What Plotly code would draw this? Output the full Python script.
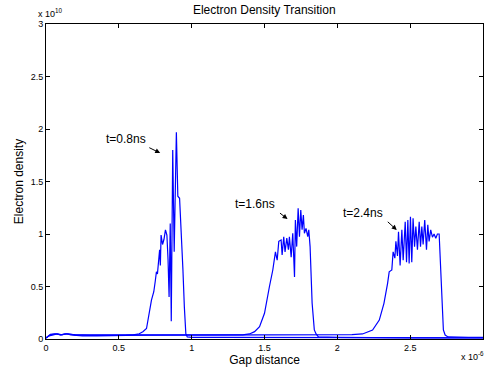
import plotly.graph_objects as go

# x in units of 1e-6 (Gap distance), y in units of 1e10 (Electron density)
x_08 = [0, 0.02, 0.05, 0.08, 0.11, 0.14, 0.17, 0.2, 0.25, 0.35, 0.45, 0.55, 0.6, 0.64, 0.665, 0.69,
        0.724, 0.74, 0.75, 0.758, 0.765, 0.772, 0.78, 0.785, 0.79, 0.80, 0.81, 0.82, 0.83, 0.838,
        0.845, 0.853, 0.86, 0.87, 0.88, 0.895, 0.905, 0.917, 0.93, 0.94, 0.95, 0.96, 0.97, 1.0,
        1.2, 1.5, 2.0, 2.5, 3.0]
y_08 = [0.01, 0.03, 0.04, 0.05, 0.04, 0.05, 0.04, 0.035, 0.03, 0.03, 0.03, 0.035, 0.04, 0.05, 0.07, 0.1,
        0.37, 0.45, 0.55, 0.64, 0.62, 0.73, 0.85, 0.70, 0.99, 0.9, 0.95, 1.04, 0.99, 0.75,
        0.40, 1.1, 0.17, 1.8, 0.83, 1.97, 1.36, 1.34, 1.0, 0.66, 0.3, 0.05, 0.02, 0.015,
        0.015, 0.015, 0.01, 0.01, 0.01]

x_16 = [0, 0.03, 0.07, 0.1, 0.15, 0.2, 0.3, 0.6, 0.9, 1.2, 1.35, 1.397, 1.432, 1.466, 1.5, 1.534,
        1.557, 1.575, 1.587, 1.598, 1.614, 1.621, 1.632, 1.641, 1.653, 1.664, 1.671, 1.683, 1.694,
        1.706, 1.712, 1.721, 1.731, 1.740, 1.749, 1.758, 1.767, 1.774, 1.785, 1.797, 1.804, 1.813,
        1.827, 1.842, 1.854, 1.87, 2.0, 2.5, 3.0]
y_16 = [0.01, 0.04, 0.05, 0.04, 0.05, 0.04, 0.04, 0.04, 0.04, 0.04, 0.04, 0.048, 0.07, 0.117, 0.245, 0.50,
        0.657, 0.83, 0.75, 0.93, 0.943, 0.80, 0.974, 0.83, 0.96, 0.85, 0.974, 0.78, 1.007,
        0.59, 1.133, 0.88, 1.245, 0.974, 1.229, 1.04, 1.18, 1.007, 1.054, 0.974, 1.04, 0.88,
        0.34, 0.086, 0.048, 0.02, 0.015, 0.01, 0.01]

x_24 = [0, 0.03, 0.06, 0.1, 0.13, 0.17, 0.2, 0.3, 0.6, 1.0, 1.5, 2.0, 2.1, 2.173, 2.242, 2.288, 2.32,
        2.345, 2.356, 2.374, 2.383, 2.395, 2.402, 2.413, 2.42, 2.431, 2.443, 2.452, 2.466, 2.475,
        2.484, 2.493, 2.502, 2.511, 2.52, 2.53, 2.539, 2.55, 2.562, 2.571, 2.58, 2.589, 2.6, 2.612,
        2.621, 2.63, 2.641, 2.653, 2.664, 2.676, 2.687, 2.699, 2.706, 2.717, 2.728, 2.74, 2.76,
        2.9, 3.0]
y_24 = [0.01, 0.045, 0.05, 0.04, 0.05, 0.045, 0.04, 0.035, 0.035, 0.035, 0.035, 0.04, 0.042, 0.048,
        0.086, 0.18, 0.34, 0.53, 0.64, 0.657, 0.83, 0.77, 0.93, 0.79, 1.02, 0.70, 1.04, 0.75,
        1.117, 0.73, 1.133, 0.72, 1.165, 0.73, 1.15, 0.88, 1.07, 0.85, 1.117, 0.88, 1.07, 0.90,
        1.133, 0.85, 1.087, 0.93, 1.04, 0.97, 1.0, 0.96, 1.0, 1.0, 0.78, 0.31, 0.086, 0.038,
        0.02, 0.015, 0.015]

labels = ["t=0.8ns", "t=1.6ns", "t=2.4ns"]
label_pos = [(0.548, 1.905), (1.438, 1.286), (2.178, 1.20)]
arrow_tail = [(0.699, 1.829), (1.596, 1.21), (2.336, 1.129)]
arrow_head = [(0.784, 1.771), (1.658, 1.143), (2.408, 1.038)]

tick_vals = [0, 0.5, 1, 1.5, 2, 2.5, 3]
tick_text = ["0", "0.5", "1", "1.5", "2", "2.5", "3"]

fig = go.Figure()
for xs, ys in [(x_08, y_08), (x_16, y_16), (x_24, y_24)]:
    fig.add_trace(go.Scatter(x=xs, y=ys, mode="lines",
                             line=dict(color="#0000ff", width=1.2), showlegend=False))

for txt, (tx, ty) in zip(labels, label_pos):
    fig.add_annotation(x=tx, y=ty, xref="x", yref="y", text=txt, showarrow=False,
                       font=dict(size=12, color="black"), xanchor="center", yanchor="middle")
for (hx, hy), (ax_, ay_) in zip(arrow_head, arrow_tail):
    fig.add_annotation(x=hx, y=hy, ax=ax_, ay=ay_, xref="x", yref="y", axref="x", ayref="y",
                       text="", showarrow=True, arrowhead=2, arrowsize=1, arrowwidth=1,
                       arrowcolor="black")

fig.add_annotation(x=-0.023, y=1.035, xref="paper", yref="paper",
                   text="x 10<sup>10</sup>", showarrow=False, xanchor="left", yanchor="middle",
                   font=dict(size=9, color="black"))
fig.add_annotation(x=0.945, y=-0.055, xref="paper", yref="paper",
                   text="x 10<sup>-6</sup>", showarrow=False, xanchor="left", yanchor="middle",
                   font=dict(size=9, color="black"))

axis_common = dict(showline=True, linecolor="black", linewidth=1, mirror="ticks",
                   ticks="inside", ticklen=4, tickcolor="black", showgrid=False,
                   zeroline=False, tickfont=dict(size=9, color="black"),
                   tickvals=tick_vals, ticktext=tick_text)

fig.update_layout(
    width=484, height=367,
    margin=dict(l=46, r=1, t=24, b=28),
    paper_bgcolor="white", plot_bgcolor="white",
    font=dict(family="Liberation Sans, Arial, sans-serif", color="black"),
    title=dict(text="Electron Density Transition", x=0.546, xanchor="center",
               y=0.972, yanchor="middle", font=dict(size=12, color="black")),
    xaxis=dict(range=[0, 3], title=dict(text="Gap distance", font=dict(size=12), standoff=0),
               **axis_common),
    yaxis=dict(range=[0, 3], title=dict(text="Electron density", font=dict(size=12), standoff=4),
               **axis_common),
)

fig.write_html("out.html", config={"displayModeBar": False},
               post_script="document.body.style.margin='0';document.body.style.overflow='hidden';")
